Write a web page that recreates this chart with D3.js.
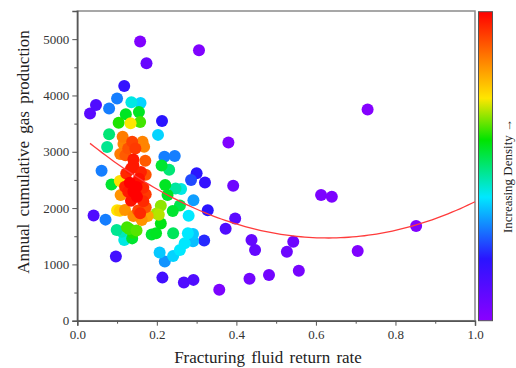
<!DOCTYPE html>
<html lang="en">
<head>
<meta charset="utf-8">
<title>Return rate vs gas production</title>
<script src="https://cdn.jsdelivr.net/npm/d3@7"></script>
<style>
  body { margin: 0; background: #fff; }
  svg text { font-family: "Liberation Serif", "Times New Roman", serif; }
</style>
</head>
<body>
<svg id="chart" width="516" height="368"></svg>
<script>
// points: return rate, annual gas production, relative density (0..1)
var returnRate = [
  0.158, 0.306, 0.174, 0.118, 0.032, 0.047, 0.100, 0.080, 0.136, 0.159,
  0.122, 0.155, 0.104, 0.134, 0.158, 0.213, 0.730, 0.080, 0.075, 0.203, 0.380,
  0.114, 0.116, 0.138, 0.164, 0.168, 0.146, 0.108, 0.121, 0.141, 0.141,
  0.171, 0.172, 0.123, 0.107, 0.132, 0.149, 0.128, 0.109, 0.141, 0.166,
  0.172, 0.166, 0.172, 0.153, 0.120, 0.107, 0.141, 0.162, 0.177, 0.158,
  0.135, 0.155, 0.120, 0.160, 0.128, 0.150, 0.135,
  0.086, 0.061, 0.041, 0.071, 0.097, 0.099, 0.112, 0.118, 0.131, 0.138,
  0.149, 0.187, 0.198, 0.210, 0.210, 0.199, 0.212, 0.231, 0.221, 0.227,
  0.240, 0.258, 0.241, 0.247, 0.261, 0.219, 0.245, 0.280, 0.278, 0.291,
  0.291, 0.270, 0.258, 0.241, 0.207, 0.220, 0.292, 0.286, 0.300, 0.321,
  0.328, 0.319, 0.214, 0.268, 0.292, 0.357, 0.373, 0.392, 0.397, 0.438,
  0.447, 0.433, 0.482, 0.527, 0.543, 0.557, 0.613, 0.640, 0.705, 0.852,
  0.125, 0.140, 0.100, 0.205
];
var gasProd = [
  4960, 4805, 4570, 4170, 3680, 3830, 3945, 3770, 3880, 3865,
  3665, 3705, 3515, 3505, 3530, 3545, 3751, 3310, 3085, 3300, 3166,
  3266, 3140, 3180, 3180, 3090, 3060, 2960, 2940, 2864, 2760,
  2840, 2590, 2615, 2480, 2450, 2375, 2290, 2231, 2290, 2360,
  2245, 2120, 2015, 1955, 1965, 1953, 1860, 1790, 1858, 1907,
  2700, 2520, 2380, 2640, 3060, 2200, 2130,
  2420, 2663, 1870, 1795, 1140, 1609, 1580, 1432, 1627, 1462,
  1600, 1530, 1555, 1728, 2041, 1905, 2755, 2680, 2408, 2231,
  1947, 2045, 1555, 2349, 2337, 2911, 2923, 1865, 1551, 1540,
  1410, 1374, 1255, 1150, 1210, 1050, 2140, 2497, 2620, 2455,
  1960, 1425, 765, 680, 725, 550, 1635, 2396, 1817, 1432,
  1254, 745, 811, 1225, 1402, 888, 2231, 2201, 1237, 1680,
  1660, 1560, 1960, 1880
];
var density = [
  0.02, 0.02, 0.07, 0.18, 0.10, 0.12, 0.30, 0.30, 0.42, 0.38,
  0.56, 0.56, 0.60, 0.72, 0.62, 0.20, 0.01, 0.50, 0.48, 0.38, 0.02,
  0.85, 0.84, 0.92, 0.84, 0.84, 0.93, 0.85, 0.89, 0.97, 0.97,
  0.89, 0.90, 0.95, 0.73, 1.00, 1.00, 0.97, 0.82, 1.00, 0.95,
  0.93, 0.95, 0.90, 0.92, 0.82, 0.75, 0.83, 0.82, 0.80, 0.95,
  0.97, 0.98, 0.96, 0.96, 0.90, 1.00, 0.98,
  0.55, 0.30, 0.12, 0.30, 0.15, 0.48, 0.45, 0.42, 0.62, 0.55,
  0.63, 0.55, 0.56, 0.57, 0.66, 0.67, 0.55, 0.50, 0.56, 0.56,
  0.55, 0.53, 0.52, 0.47, 0.42, 0.30, 0.30, 0.40, 0.40, 0.37,
  0.36, 0.40, 0.40, 0.38, 0.37, 0.32, 0.33, 0.25, 0.20, 0.18,
  0.20, 0.22, 0.15, 0.12, 0.12, 0.03, 0.12, 0.06, 0.10, 0.08,
  0.08, 0.05, 0.05, 0.06, 0.06, 0.04, 0.03, 0.03, 0.02, 0.02,
  0.62, 0.60, 0.72, 0.68
];

// quadratic fit y = a x^2 + b x + c, drawn over this x range
var fitCoef = [4701, -5922, 3334];
var fitRange = [0.032, 1.0];

var xTicks = [0, 0.2, 0.4, 0.6, 0.8, 1.0];
var yTicks = [0, 1000, 2000, 3000, 4000, 5000];

// rainbow colour map of the density bar
var cmapStops = [0, 0.2, 0.4, 0.585, 0.72, 0.84, 1];
var cmapColors = ["#8a00ff", "#2a14ff", "#00e8ff", "#00e400", "#ffe600", "#ff8400", "#ff0000"];

var svg = d3.select("#chart");
var plotL = 77.3, plotR = 475, plotT = 11, plotB = 320.7;

var x = d3.scaleLinear().domain([0, 1]).range([plotL, plotR]);
var y = d3.scaleLinear().domain([0, 5500]).range([plotB, plotT]);
var color = d3.scaleLinear().domain(cmapStops).range(cmapColors);

// frame
svg.append("rect")
  .attr("x", plotL).attr("y", plotT)
  .attr("width", plotR - plotL).attr("height", plotB - plotT)
  .attr("fill", "none").attr("stroke", "#8a8a8a").attr("stroke-width", 1.5);

// minor ticks
svg.append("g")
  .attr("transform", "translate(" + plotL + ",0)")
  .call(d3.axisLeft(y).tickValues(d3.range(500, 5500, 1000)).tickSize(3).tickFormat(""))
  .call(function(g) { g.select(".domain").remove(); g.selectAll("line").attr("stroke", "#555"); });
svg.append("g")
  .attr("transform", "translate(0," + plotB + ")")
  .call(d3.axisBottom(x).tickValues([0.1, 0.3, 0.5, 0.7, 0.9]).tickSize(3).tickFormat(""))
  .call(function(g) { g.select(".domain").remove(); g.selectAll("line").attr("stroke", "#555"); });

// major axes
var yAxis = svg.append("g")
  .attr("transform", "translate(" + plotL + ",0)")
  .call(d3.axisLeft(y).tickValues(yTicks).tickSize(5).tickPadding(3).tickFormat(d3.format("d")));
var xAxis = svg.append("g")
  .attr("transform", "translate(0," + plotB + ")")
  .call(d3.axisBottom(x).tickValues(xTicks).tickSize(5).tickPadding(4).tickFormat(d3.format(".1f")));

[yAxis, xAxis].forEach(function(g) {
  g.select(".domain").attr("stroke", "#555").attr("stroke-width", 1.5);
  g.selectAll(".tick line").attr("stroke", "#555");
  g.selectAll(".tick text")
    .attr("fill", "#333")
    .style("font-family", "'Liberation Serif', serif")
    .style("font-size", "13px");
});

// points, low density first
var pts = returnRate.map(function(r, i) { return { r: r, g: gasProd[i], d: density[i] }; })
  .sort(function(a, b) { return a.d - b.d; });

svg.append("g").selectAll("circle")
  .data(pts)
  .join("circle")
  .attr("cx", function(d) { return x(d.r); })
  .attr("cy", function(d) { return y(d.g); })
  .attr("r", 6)
  .attr("fill", function(d) { return color(d.d); });

// fit curve
var fitPts = d3.range(fitRange[0], fitRange[1] + 0.0001, 0.01).map(function(v) {
  return [v, fitCoef[0] * v * v + fitCoef[1] * v + fitCoef[2]];
});
fitPts.push([fitRange[1], fitCoef[0] + fitCoef[1] + fitCoef[2]]);
svg.append("path")
  .datum(fitPts)
  .attr("fill", "none")
  .attr("stroke", "#ff3b3b")
  .attr("stroke-width", 1.3)
  .attr("d", d3.line().x(function(d) { return x(d[0]); }).y(function(d) { return y(d[1]); }));

// colour bar
var grad = svg.append("defs").append("linearGradient")
  .attr("id", "densGrad").attr("x1", 0).attr("y1", 1).attr("x2", 0).attr("y2", 0);
grad.selectAll("stop")
  .data(cmapStops)
  .join("stop")
  .attr("offset", function(d) { return d; })
  .attr("stop-color", function(d, i) { return cmapColors[i]; });

svg.append("rect")
  .attr("x", 478.5).attr("y", plotT + 0.7)
  .attr("width", 14).attr("height", plotB - plotT - 0.7)
  .attr("fill", "url(#densGrad)")
  .attr("stroke", "#555").attr("stroke-width", 1);

svg.append("text")
  .attr("transform", "translate(507,176) rotate(-90)")
  .attr("text-anchor", "middle")
  .attr("dy", "0.35em")
  .style("font-size", "13px")
  .attr("fill", "#222")
  .text("Increasing Density \u2192");

// axis titles
svg.append("text")
  .attr("transform", "translate(23,152) rotate(-90)")
  .attr("text-anchor", "middle")
  .attr("dy", "0.35em")
  .style("font-size", "17px")
  .style("word-spacing", "3px")
  .attr("fill", "#222")
  .text("Annual cumulative gas production");

svg.append("text")
  .attr("x", 268).attr("y", 363)
  .attr("text-anchor", "middle")
  .style("font-size", "17px")
  .style("word-spacing", "2px")
  .attr("fill", "#222")
  .text("Fracturing  fluid return rate");
</script>
</body>
</html>
